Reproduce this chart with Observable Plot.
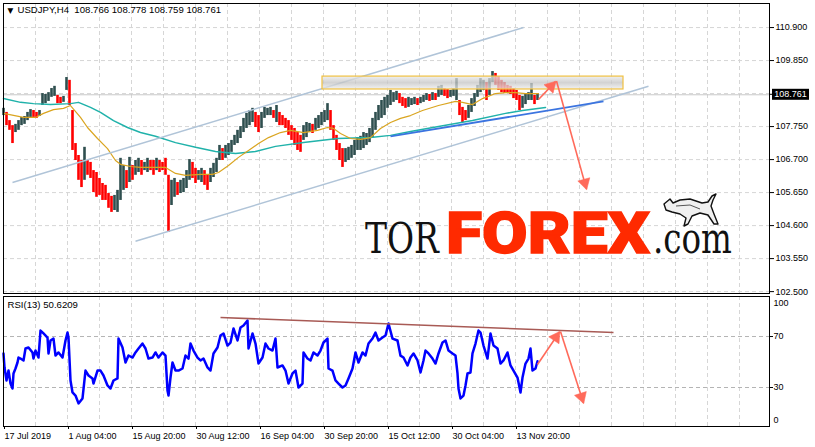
<!DOCTYPE html>
<html><head><meta charset="utf-8">
<script src="https://cdn.jsdelivr.net/npm/d3@7"></script>
<script src="https://cdn.jsdelivr.net/npm/@observablehq/plot@0.6"></script>
<style>
body{margin:0;background:#fff;}
#wrap{position:relative;width:815px;height:447px;overflow:hidden;background:#fff;}
#wrap svg{display:block;position:absolute;left:0;}
#wrap svg.main{top:0;z-index:2;overflow:visible;}
#wrap svg.rsi{top:294px;z-index:1;}
#logo{top:0;z-index:3;pointer-events:none;}
</style></head><body><div id="wrap"></div>
<script>
// ---------- DATA ----------
const title = "USDJPY,H4  108.766 108.778 108.759 108.761";
const lastPrice = 108.761;
const rsiTitle = "RSI(13) 50.6209";
const barStep = 3; // each entry = 3 consecutive H4 bars
const barHigh = [
 108.33,108.20,107.94,107.78,107.82,107.94,108.04,108.07,108.20,108.29,
 108.26,108.20,108.26,108.80,108.77,108.83,108.96,109.03,108.74,108.68,
 108.71,109.31,109.22,108.26,107.21,106.83,106.67,107.09,106.67,106.61,
 106.35,106.29,106.10,105.94,105.88,105.62,105.53,105.56,105.72,106.74,
 106.51,106.35,106.77,106.51,106.67,106.74,106.67,106.61,106.74,106.67,
 106.67,106.74,106.67,106.61,106.74,106.20,106.04,106.10,105.97,106.04,
 106.10,106.35,106.70,106.61,106.42,106.35,106.42,106.35,106.20,106.42,
 106.58,106.74,107.15,107.05,107.15,107.21,107.31,107.47,107.63,107.75,
 108.01,108.17,108.26,108.33,108.20,108.10,108.20,108.36,108.33,108.36,
 108.26,108.42,108.20,108.10,108.01,107.94,107.78,107.69,107.56,107.47,
 107.78,107.88,107.85,107.82,108.01,108.10,108.20,108.26,108.48,108.26,
 107.78,107.47,107.21,107.05,107.05,107.09,107.15,107.31,107.40,107.44,
 107.56,107.53,107.69,108.01,108.20,108.42,108.58,108.68,108.74,108.90,
 108.83,108.87,108.80,108.68,108.64,108.68,108.64,108.68,108.64,108.68,
 108.74,108.80,108.77,108.83,108.80,109.03,109.06,108.96,108.93,108.90,
 108.96,109.28,108.58,108.36,108.26,108.42,108.64,108.80,109.06,109.28,
 109.22,109.15,109.28,109.50,109.44,109.34,109.22,109.15,109.06,109.03,
 108.96,108.90,108.74,108.71,108.80,108.83,109.12,108.74,108.80];
const barLow = [
 108.10,107.78,107.63,107.21,107.56,107.63,107.78,107.82,107.94,108.04,
 108.04,108.01,108.07,108.42,108.48,108.55,108.68,108.71,108.48,108.48,
 108.52,108.90,108.42,106.99,106.67,106.04,105.81,106.04,106.20,106.10,
 105.65,105.50,105.56,105.40,105.40,105.15,105.02,105.08,105.02,105.40,
 105.72,105.78,105.97,106.04,106.20,106.29,106.20,106.35,106.29,106.35,
 106.20,106.35,106.29,106.35,106.20,104.38,105.24,105.50,105.56,105.62,
 105.65,105.78,106.04,106.10,105.94,106.04,105.97,105.88,105.72,105.97,
 106.13,106.29,106.67,106.67,106.74,106.83,106.93,107.15,107.21,107.37,
 107.56,107.69,107.78,107.88,107.72,107.56,107.69,108.01,108.10,108.10,
 108.01,107.88,107.78,107.78,107.69,107.47,107.31,107.15,106.99,106.93,
 107.31,107.40,107.56,107.53,107.63,107.69,107.78,107.88,107.94,107.63,
 107.31,106.99,106.67,106.45,106.61,106.67,106.74,106.83,106.99,106.99,
 107.05,107.15,107.24,107.40,107.63,107.94,108.01,108.10,108.33,108.42,
 108.52,108.58,108.48,108.39,108.33,108.36,108.42,108.45,108.42,108.48,
 108.52,108.58,108.55,108.58,108.58,108.68,108.74,108.71,108.64,108.68,
 108.71,108.58,108.10,107.88,107.94,108.01,108.20,108.39,108.68,108.83,
 108.90,108.58,108.74,109.15,109.06,108.90,108.83,108.80,108.80,108.77,
 108.64,108.58,108.26,108.33,108.45,108.58,108.58,108.45,108.58];
// moving averages [bar, price]
const maFast = [[0,108.17],[20,108.04],[32,108.04],[40,108.17],[50,108.29],[60,108.33],[67,108.42],[77,108.04],[84,107.72],[94,107.37],[104,107.05],[112,106.67],[117,106.55],[127,106.48],[137,106.45],[162,106.45],[172,106.26],[182,106.20],[197,106.23],[209,106.23],[215,106.29],[225,106.51],[235,106.77],[245,106.99],[255,107.21],[265,107.40],[277,107.56],[287,107.63],[300,107.56],[314,107.63],[324,107.72],[330,107.69],[337,107.53],[347,107.37],[357,107.34],[367,107.40],[377,107.69],[387,107.88],[397,108.01],[407,108.10],[419,108.26],[435,108.42],[452,108.55],[459,108.52],[469,108.45],[479,108.64],[492,108.80],[502,108.83],[512,108.83],[522,108.80],[535,108.80]];
const maSlow = [[0,108.64],[17,108.52],[30,108.48],[47,108.45],[67,108.48],[75,108.52],[87,108.36],[97,108.20],[110,107.94],[124,107.72],[137,107.56],[152,107.44],[172,107.24],[192,107.09],[212,106.96],[232,106.89],[252,106.96],[272,107.12],[300,107.24],[334,107.37],[367,107.40],[387,107.47],[407,107.59],[435,107.75],[469,107.94],[502,108.17],[519,108.26],[542,108.36]];
// drawn objects [bar1, price1, bar2, price2]
const channel = [[9,105.97,520,110.90],[132,104.10,645,109.03]];
const trend = [[387,107.44,600,108.55]];
const zone = [{b1:319,b2:620,p1:108.93,p2:109.34}];
const priceArrows = [[535,108.61,552,109.18],[553,109.20,583,105.76]];
// RSI(13) [bar, value]
const rsiPoints = [[0,56.7],[1,45.7],[3,35.5],[5,43.3],[7,33.1],[9,29.2],[10,41.0],[12,44.9],[14,49.6],[15,53.5],[17,52.7],[20,51.2],[22,60.6],[25,61.4],[29,57.5],[30,52.7],[32,59.0],[35,53.5],[37,74.7],[40,72.4],[44,69.2],[45,56.7],[47,66.9],[50,68.4],[52,55.1],[55,57.5],[59,53.5],[62,66.9],[64,73.1],[65,69.2],[67,35.5],[69,26.1],[72,23.7],[75,17.5],[79,21.4],[82,43.3],[85,39.4],[89,37.1],[90,33.1],[94,43.3],[97,43.3],[100,39.4],[104,31.6],[107,29.2],[110,35.5],[114,37.1],[115,68.4],[119,61.4],[122,49.6],[125,55.1],[129,53.5],[132,57.5],[135,60.6],[139,64.5],[142,60.6],[145,52.7],[149,53.5],[152,57.5],[155,53.5],[159,57.5],[162,55.1],[164,27.6],[165,23.7],[167,37.8],[169,49.6],[172,43.3],[175,43.3],[179,44.9],[182,55.1],[185,52.7],[187,64.5],[190,59.0],[194,53.5],[197,51.2],[200,52.7],[204,45.7],[207,43.3],[210,56.7],[214,61.4],[217,70.8],[220,72.4],[224,62.9],[227,65.3],[230,76.3],[234,66.9],[237,77.1],[240,78.6],[244,82.5],[245,60.6],[249,72.4],[252,64.5],[255,48.8],[259,53.5],[262,64.5],[265,60.6],[269,59.0],[272,68.4],[274,45.7],[279,47.3],[282,43.3],[285,33.1],[289,41.0],[292,43.3],[295,30.0],[299,33.1],[300,57.5],[304,52.7],[307,51.2],[310,57.5],[314,55.1],[317,59.0],[320,65.3],[324,68.4],[325,44.9],[329,43.3],[332,35.5],[335,33.1],[339,30.0],[342,31.6],[345,37.1],[349,44.9],[352,57.5],[355,49.6],[359,57.5],[362,55.1],[365,64.5],[369,68.4],[372,73.1],[375,66.9],[379,69.2],[382,70.8],[385,80.2],[389,68.4],[394,66.9],[397,55.0],[400,53.5],[404,47.3],[407,53.5],[410,56.7],[414,51.2],[417,41.8],[420,51.2],[422,59.0],[425,56.7],[429,52.7],[432,48.8],[435,56.7],[439,65.3],[442,66.9],[445,59.0],[449,56.7],[452,55.1],[454,41.0],[455,29.2],[457,21.4],[460,23.7],[462,31.6],[464,41.0],[467,41.8],[469,56.7],[472,64.5],[475,74.7],[477,73.1],[480,62.9],[484,52.7],[487,72.4],[490,62.9],[494,60.6],[497,48.8],[500,51.2],[504,57.5],[507,47.3],[510,43.3],[514,37.8],[517,26.1],[519,37.8],[522,48.8],[525,52.7],[527,60.6],[529,43.3],[532,44.9],[534,50.6]];
const rsiResistance = [[217,84.9,610,73.2]];
const rsiArrows = [[534,48.0,556,73.6],[557,73.9,580,17.8]];
const rsiLevels = [70, 30];
// axes
const priceTicks = [102.5,103.55,104.6,105.65,106.7,107.75,108.8,109.85,110.9];
const timeTicks = [0,64,128,192,256,320,384,448,512];
const timeLabels = ["17 Jul 2019","1 Aug 04:00","15 Aug 20:00","30 Aug 12:00","16 Sep 04:00","30 Sep 20:00","15 Oct 12:00","30 Oct 04:00","13 Nov 20:00"];
const gridBars = d3.range(32, 766, 32);

// ---------- LAYOUT ----------
const W = 815, mL = 3, mR = 46;
const xDomain = [0, 766];
const H1 = 294, m1T = 3, m1B = 1, yDomain = [102.44, 111.665];
const H2 = 153, m2T = 2, m2B = 21, rDomain = [-0.6, 101.4];
const font = "'Liberation Sans', Arial, sans-serif";
const upColor = "#2f4f4f", downColor = "#ff0000";
const arrowColor = "#ff6a5a";

const xs = d3.scaleLinear(xDomain, [mL, W - mR]);
const ysP = d3.scaleLinear(yDomain, [H1 - m1B, m1T]);
const ysR = d3.scaleLinear(rDomain, [H2 - m2B, m2T]);

function arrowMarks(segs, ys, color) {
  const heads = segs.map(([a1, v1, a2, v2]) => {
    const px1 = xs(a1), py1 = ys(v1), px2 = xs(a2), py2 = ys(v2);
    const L = Math.hypot(px2 - px1, py2 - py1), ux = (px2 - px1) / L, uy = (py2 - py1) / L;
    return {b: xs.invert(px2 - ux * 6.5), v: ys.invert(py2 - uy * 6.5), a: Math.atan2(ux, -uy) * 180 / Math.PI};
  });
  return [
    Plot.link(segs, {x1: d => d[0], y1: d => d[1], x2: d => d[2], y2: d => d[3], stroke: color, strokeWidth: 1.6}),
    Plot.dot(heads, {x: "b", y: "v", symbol: "triangle", r: 4.6, fill: color, stroke: color, strokeWidth: 0.5, rotate: "a"})
  ];
}

const bars = barHigh.map((h, i) => ({b: i * barStep, hi: h, lo: barLow[i]}));
bars.forEach((d, i) => {
  const mid = (d.hi + d.lo) / 2;
  const prev = i ? (bars[i - 1].hi + bars[i - 1].lo) / 2 : mid;
  d.up = mid >= prev;
});

const gridStyle = {stroke: "#d6d6d6", strokeOpacity: 1, strokeDasharray: "4,3"};

const main = Plot.plot({
  width: W, height: H1, marginLeft: mL, marginRight: mR, marginTop: m1T, marginBottom: m1B,
  style: {fontFamily: font, fontSize: "9px", background: "#fff", color: "#000", overflow: "visible"},
  x: {domain: xDomain, axis: null},
  y: {domain: yDomain, axis: null},
  marks: [
    Plot.gridX({ticks: gridBars, ...gridStyle}),
    Plot.gridY({ticks: priceTicks, ...gridStyle}),
    Plot.ruleY([lastPrice], {stroke: "#c8c8c8", strokeWidth: 1}),
    Plot.ruleX(bars, {x: "b", y1: "lo", y2: "hi", stroke: d => d.up ? upColor : downColor, strokeWidth: 2.6}),
    Plot.line(maSlow, {x: d => d[0], y: d => d[1], stroke: "#20b2aa", strokeWidth: 1.5}),
    Plot.line(maFast, {x: d => d[0], y: d => d[1], stroke: "#daa520", strokeWidth: 1.2}),
    Plot.link(channel, {x1: d => d[0], y1: d => d[1], x2: d => d[2], y2: d => d[3], stroke: "#b0c4d8", strokeWidth: 1.5}),
    Plot.link(trend, {x1: d => d[0], y1: d => d[1], x2: d => d[2], y2: d => d[3], stroke: "#3b74e0", strokeWidth: 1.8}),
    Plot.rect(zone, {x1: "b1", x2: "b2", y1: "p1", y2: "p2", fill: "url(#zoneGrad)", fillOpacity: 0.75, stroke: "#f0c040", strokeWidth: 1.2}),
    ...arrowMarks(priceArrows, ysP, arrowColor),
    Plot.frame({stroke: "#000"}),
    Plot.axisY({anchor: "right", ticks: priceTicks.filter(d => d !== 108.8), tickFormat: d => d.toFixed(3), tickSize: 4, tickPadding: 2, fontSize: 9, label: null}),
    Plot.text(["\u25BC"], {frameAnchor: "top-left", text: d => d, dx: 4, dy: 4, lineAnchor: "top", textAnchor: "start", fontSize: 7.5, fontFamily: "DejaVu Sans"}),
    Plot.text([title], {frameAnchor: "top-left", text: d => d, dx: 14, dy: 3, lineAnchor: "top", textAnchor: "start", fontSize: 9.6})
  ]
});

const rsi = Plot.plot({
  width: W, height: H2, marginLeft: mL, marginRight: mR, marginTop: m2T, marginBottom: m2B,
  style: {fontFamily: font, fontSize: "9px", background: "#fff", color: "#000"},
  x: {domain: xDomain, axis: null},
  y: {domain: rDomain, axis: null},
  marks: [
    Plot.gridX({ticks: gridBars, ...gridStyle}),
    Plot.ruleY(rsiLevels, {stroke: "#b4b4b4", strokeDasharray: "4,3"}),
    Plot.line(rsiPoints, {x: d => d[0], y: d => d[1], stroke: "#0000ff", strokeWidth: 2.5}),
    Plot.link(rsiResistance, {x1: d => d[0], y1: d => d[1], x2: d => d[2], y2: d => d[3], stroke: "#a85a55", strokeWidth: 1.6}),
    ...arrowMarks(rsiArrows, ysR, arrowColor),
    Plot.frame({stroke: "#000"}),
    Plot.axisY({anchor: "right", ticks: rsiLevels, tickSize: 3, tickPadding: 1, fontSize: 9, label: null}),
    Plot.text([100], {x: () => xDomain[1], y: d => d, text: d => String(d), dx: 4, dy: 5, textAnchor: "start", fontSize: 9}),
    Plot.text([0], {x: () => xDomain[1], y: d => d, text: d => String(d), dx: 4, dy: -6, textAnchor: "start", fontSize: 9}),
    Plot.axisX({ticks: timeTicks, tickFormat: d => timeLabels[timeTicks.indexOf(d)], textAnchor: "start", dx: 1, tickSize: 3, tickPadding: 3, fontSize: 9, label: null}),
    Plot.text([rsiTitle], {frameAnchor: "top-left", text: d => d, dx: 4, dy: 5, lineAnchor: "top", textAnchor: "start", fontSize: 9.6})
  ]
});

main.classList.add("main");
rsi.classList.add("rsi");
const wrap = document.getElementById("wrap");
wrap.appendChild(main);
wrap.appendChild(rsi);

// gradient for the zone rectangle + last price marker
const svgMain = d3.select(main);
const grad = svgMain.insert("defs", ":first-child").append("linearGradient")
  .attr("id", "zoneGrad").attr("x1", 0).attr("y1", 0).attr("x2", 0).attr("y2", 1);
grad.append("stop").attr("offset", "0%").attr("stop-color", "#ececec");
grad.append("stop").attr("offset", "50%").attr("stop-color", "#c4c4c4");
grad.append("stop").attr("offset", "100%").attr("stop-color", "#ececec");

const yLast = main.scale("y").apply(lastPrice);
const xEnd = main.scale("x").apply(xDomain[1]);
svgMain.append("line").attr("x1", xEnd).attr("x2", xEnd + 4).attr("y1", yLast).attr("y2", yLast).attr("stroke", "#000");
svgMain.append("rect").attr("x", xEnd + 3).attr("y", yLast - 5.5).attr("width", 37).attr("height", 11).attr("fill", "#000");
svgMain.append("text").attr("x", xEnd + 21.5).attr("y", yLast).attr("dy", "0.35em").attr("text-anchor", "middle")
  .attr("fill", "#fff").attr("font-family", font).attr("font-size", 9).text(lastPrice.toFixed(3));

// watermark logo: each word horizontally scaled to its box
const logo = d3.select(wrap).append("svg").attr("id", "logo").attr("width", 815).attr("height", 447);
const logoParts = [
  {t: "TOR", x: 365, w: 74, family: "DejaVu Serif", size: 42, weight: 400, fill: "#111"},
  {t: "FOREX", x: 446, w: 204, family: "Roboto, 'Open Sans', sans-serif", size: 58, weight: 900, fill: "#ff2a00"},
  {t: ".com", x: 653, w: 79, family: "DejaVu Serif", size: 42, weight: 400, fill: "#111"}
];
logoParts.forEach(p => {
  const el = logo.append("text").attr("x", 0).attr("y", 0)
    .attr("font-family", p.family).attr("font-size", p.size).attr("font-weight", p.weight)
    .attr("fill", p.fill).text(p.t);
  if (p.weight === 900) el.attr("stroke", p.fill).attr("stroke-width", 1.3);
  const nat = el.node().getComputedTextLength() || p.w;
  el.attr("transform", `translate(${p.x},253) scale(${p.w / nat},1)`);
});
logo.append("path")
  .attr("d", "M664 204 L670 199 L673 203 L680 200 L690 199 L702 203 L708 202 L712 196 L716 194 L713 200 L711 206 L714 214 L718 224 L714 224 L708 215 L700 213 L692 216 L688 224 L684 226 L686 218 L680 214 L672 212 L666 210 Z")
  .attr("fill", "#f0f0f0").attr("stroke", "#111").attr("stroke-width", 1.4).attr("stroke-linejoin", "round");
logo.append("path").attr("d", "M676 206 L690 205 L700 209").attr("fill", "none").attr("stroke", "#555");
</script>
</body></html>
